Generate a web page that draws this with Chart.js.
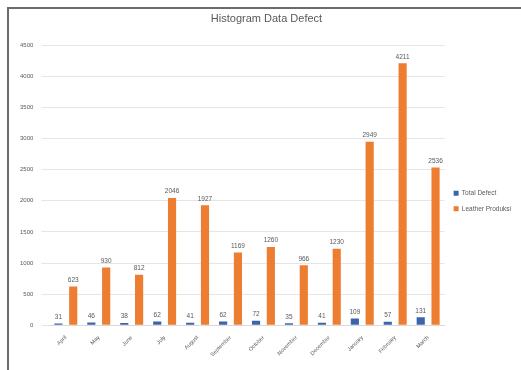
<!DOCTYPE html>
<html>
<head>
<meta charset="utf-8">
<script src="https://cdn.jsdelivr.net/npm/chart.js@4"></script>
<style>
  html, body { margin: 0; padding: 0; background: #fff; }
  .frame { position: absolute; left: 7px; top: 7px; width: 530px; height: 380px;
           border-left: 2px solid #6b6b6b; border-top: 2px solid #6b6b6b; }
  .wrap { position: absolute; left: 0; top: 0; width: 521px; height: 370px; }
</style>
</head>
<body>
<div class="frame"></div>
<div class="wrap"><canvas id="defectChart"></canvas></div>
<script>
// months of the fiscal year
const months = ['April', 'May', 'June', 'July', 'August', 'September', 'October',
  'November', 'December', 'January', 'February', 'March'];
// total defect per month
const totalDefect = [31, 46, 38, 62, 41, 62, 72, 35, 41, 109, 57, 131];
// leather produced per month
const leatherProduksi = [623, 930, 812, 2046, 1927, 1169, 1260, 966, 1230, 2949, 4211, 2536];
const yTicks = [0, 500, 1000, 1500, 2000, 2500, 3000, 3500, 4000, 4500];

const font = '"Liberation Sans", Arial, sans-serif';

// draw the value above each bar
const valueLabels = {
  id: 'valueLabels',
  afterDatasetsDraw(chart) {
    const ctx = chart.ctx;
    ctx.save();
    ctx.font = '6.5px ' + font;
    ctx.fillStyle = '#595959';
    ctx.textAlign = 'center';
    ctx.textBaseline = 'bottom';
    chart.data.datasets.forEach((ds, i) => {
      chart.getDatasetMeta(i).data.forEach((bar, j) => {
        ctx.fillText(ds.data[j], bar.x, bar.y - 3);
      });
    });
    ctx.restore();
  }
};

new Chart(document.getElementById('defectChart'), {
  type: 'bar',
  data: {
    labels: months,
    datasets: [
      {
        label: 'Total Defect',
        data: totalDefect,
        backgroundColor: '#3b64ad',
        barPercentage: 0.55,
        categoryPercentage: 0.9
      },
      {
        label: 'Leather Produksi',
        data: leatherProduksi,
        backgroundColor: '#ed7d31',
        barPercentage: 0.55,
        categoryPercentage: 0.9
      }
    ]
  },
  options: {
    responsive: true,
    maintainAspectRatio: false,
    animation: false,
    layout: { padding: { left: 12, right: 0, top: 10, bottom: 11 } },
    scales: {
      x: {
        grid: { display: false },
        border: { color: '#d9d9d9' },
        ticks: {
          color: '#595959',
          font: { size: 5.5, family: font },
          maxRotation: 45,
          minRotation: 45,
          padding: 1
        }
      },
      y: {
        min: 0,
        max: 4500,
        afterBuildTicks: axis => { axis.ticks = yTicks.map(v => ({ value: v })); },
        grid: { color: '#e6e6e6' },
        border: { display: false },
        ticks: {
          color: '#595959',
          font: { size: 6, family: font },
          padding: 8,
          callback: v => String(v)
        }
      }
    },
    plugins: {
      title: {
        display: true,
        text: 'Histogram Data Defect',
        color: '#595959',
        font: { size: 11, weight: 'normal', family: font },
        padding: { top: 2, bottom: 20 }
      },
      legend: {
        position: 'right',
        title: { display: true, text: ' ', font: { size: 6 }, padding: 13 },
        labels: {
          boxWidth: 5,
          boxHeight: 5,
          padding: 9,
          color: '#595959',
          font: { size: 6.5, family: font }
        }
      },
      tooltip: { enabled: false }
    }
  },
  plugins: [valueLabels]
});
</script>
</body>
</html>
